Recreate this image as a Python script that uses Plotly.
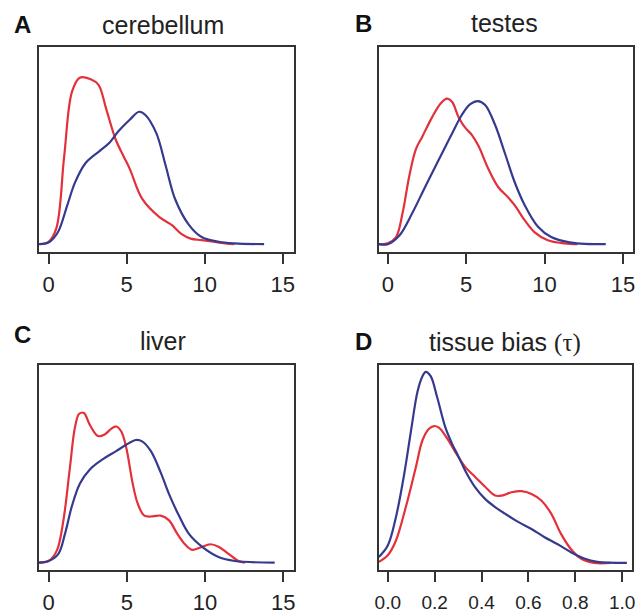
import plotly.graph_objects as go

# ---- data (estimated densities) ----
# A: cerebellum
a_red_x = [-0.6, 0.0, 0.5, 1.0, 1.5, 2.0, 2.7, 3.2, 3.7, 4.3, 4.8, 5.2, 6.0, 7.1, 7.9, 8.5, 9.1, 9.8, 10.9, 11.9]
a_red_y = [0.0, 0.003, 0.020, 0.110, 0.192, 0.210, 0.208, 0.201, 0.170, 0.132, 0.111, 0.095, 0.057, 0.034, 0.024, 0.013, 0.007, 0.005, 0.002, 0.0]
a_blue_x = [-0.6, 0.0, 0.6, 1.2, 1.7, 2.4, 3.3, 3.9, 4.5, 5.2, 5.8, 6.2, 6.9, 7.5, 8.1, 9.0, 9.8, 10.9, 11.9, 13.8]
a_blue_y = [0.0, 0.002, 0.015, 0.049, 0.078, 0.103, 0.118, 0.128, 0.143, 0.157, 0.167, 0.163, 0.140, 0.099, 0.057, 0.024, 0.009, 0.003, 0.001, 0.0]

# B: testes
b_red_x = [-0.57, 0.0, 0.53, 0.95, 1.37, 1.79, 2.2, 2.84, 3.37, 3.79, 4.1, 4.53, 4.95, 5.37, 5.79, 6.42, 7.05, 7.68, 8.1, 8.74, 9.37, 10.2, 11.26, 12.1]
b_red_y = [0.0, 0.001, 0.009, 0.040, 0.086, 0.120, 0.136, 0.161, 0.178, 0.184, 0.180, 0.160, 0.147, 0.138, 0.124, 0.095, 0.072, 0.059, 0.049, 0.030, 0.015, 0.005, 0.001, 0.0]
b_blue_x = [-0.57, 0.0, 0.74, 1.58, 2.42, 3.26, 4.1, 4.74, 5.26, 5.75, 6.21, 6.84, 7.47, 8.1, 8.74, 9.58, 10.42, 11.68, 13.9]
b_blue_y = [0.0, 0.0, 0.011, 0.040, 0.074, 0.107, 0.140, 0.164, 0.177, 0.181, 0.176, 0.151, 0.115, 0.078, 0.049, 0.022, 0.009, 0.002, 0.0]

# C: liver
c_red_x = [-0.63, 0.0, 0.53, 0.95, 1.37, 1.69, 1.96, 2.26, 2.64, 3.16, 3.59, 4.0, 4.32, 4.64, 4.96, 5.38, 5.7, 6.12, 6.65, 7.17, 7.7, 8.23, 8.76, 9.18, 9.7, 10.34, 10.86, 11.5, 12.13, 12.55]
c_red_y = [0.0, 0.002, 0.015, 0.053, 0.120, 0.170, 0.187, 0.188, 0.173, 0.159, 0.161, 0.168, 0.171, 0.165, 0.145, 0.099, 0.074, 0.059, 0.058, 0.059, 0.053, 0.036, 0.022, 0.016, 0.019, 0.023, 0.020, 0.011, 0.002, 0.0]
c_blue_x = [-0.63, 0.0, 0.63, 1.05, 1.48, 2.0, 2.64, 3.48, 4.32, 4.96, 5.59, 6.0, 6.54, 7.17, 7.7, 8.33, 8.97, 9.8, 10.86, 11.9, 14.45]
c_blue_y = [0.0, 0.002, 0.011, 0.036, 0.070, 0.099, 0.117, 0.130, 0.140, 0.148, 0.154, 0.152, 0.140, 0.113, 0.086, 0.059, 0.036, 0.020, 0.007, 0.002, 0.0]

# D: tissue bias (tau)
d_blue_x = [-0.038, 0.0, 0.035, 0.07, 0.099, 0.127, 0.148, 0.162, 0.183, 0.211, 0.246, 0.275, 0.303, 0.331, 0.373, 0.415, 0.458, 0.5, 0.556, 0.613, 0.669, 0.725, 0.78, 0.838, 0.894, 1.02]
d_blue_y = [0.11, 0.32, 0.84, 1.62, 2.41, 3.13, 3.41, 3.49, 3.41, 3.02, 2.47, 2.17, 1.93, 1.68, 1.38, 1.17, 1.02, 0.90, 0.75, 0.62, 0.47, 0.34, 0.20, 0.08, 0.02, 0.0]
d_red_x = [-0.038, 0.0, 0.035, 0.077, 0.12, 0.148, 0.176, 0.197, 0.218, 0.254, 0.289, 0.331, 0.373, 0.415, 0.458, 0.486, 0.528, 0.57, 0.613, 0.655, 0.697, 0.739, 0.78, 0.824, 0.88, 0.95]
d_red_y = [0.02, 0.14, 0.41, 1.02, 1.75, 2.24, 2.45, 2.50, 2.47, 2.27, 2.02, 1.75, 1.57, 1.39, 1.23, 1.23, 1.29, 1.31, 1.26, 1.14, 0.90, 0.53, 0.26, 0.08, 0.0, 0.0]

titles = ["cerebellum", "testes", "liver",
          "tissue bias <span style='font-family:\"Liberation Serif\", serif'>(τ)</span>"]
letters = ["A", "B", "C", "D"]
expr_ticks = [0, 5, 10, 15]
tau_ticks = [0.0, 0.2, 0.4, 0.6, 0.8, 1.0]
tau_tick_labels = ["0.0", "0.2", "0.4", "0.6", "0.8", "1.0"]

RED = "#e3303a"
BLUE = "#363a8e"
W, H = 640, 615

fig = go.Figure()
panels = [
    (a_red_x, a_red_y, a_blue_x, a_blue_y),
    (b_red_x, b_red_y, b_blue_x, b_blue_y),
    (c_red_x, c_red_y, c_blue_x, c_blue_y),
    (d_red_x, d_red_y, d_blue_x, d_blue_y),
]
for i, (rx, ry, bx, by) in enumerate(panels):
    ax = "" if i == 0 else str(i + 1)
    fig.add_trace(go.Scatter(x=rx, y=ry, mode="lines", line=dict(color=RED, width=2.2, shape="spline", smoothing=1.0),
                             xaxis="x" + ax, yaxis="y" + ax, showlegend=False))
    fig.add_trace(go.Scatter(x=bx, y=by, mode="lines", line=dict(color=BLUE, width=2.2, shape="spline", smoothing=1.0),
                             xaxis="x" + ax, yaxis="y" + ax, showlegend=False))

# box pixel positions (left, right, top, bottom)
boxes = [(35, 293, 47, 253), (379, 636, 47.5, 253), (35, 293, 367, 573), (379, 635, 366.5, 573)]
xranges = [[-0.633, 15.70], [-0.568, 15.64], [-0.633, 15.67], [-0.038, 1.042]]
yranges = [[-0.0096, 0.249], [-0.0096, 0.249], [-0.0096, 0.248], [-0.133, 3.62]]

layout = dict(width=W, height=H, margin=dict(l=0, r=0, t=0, b=0),
              plot_bgcolor="white", paper_bgcolor="white",
              font=dict(family="Liberation Sans, Arial, sans-serif", color="#222222"))
for i, (l, r, t, b) in enumerate(boxes):
    k = "" if i == 0 else str(i + 1)
    xa = dict(domain=[l / W, r / W], range=xranges[i], anchor="y" + k,
              showline=True, mirror=True, linecolor="#333333", linewidth=1.5,
              showgrid=False, zeroline=False, ticks="outside", ticklen=10, tickwidth=1.5,
              tickcolor="#333333", tickfont=dict(size=22 if i < 3 else 19, color="#222222"),
              ticklabelstandoff=2 if i < 3 else 4)
    if i < 3:
        xa.update(tickmode="array", tickvals=expr_ticks, ticktext=[str(v) for v in expr_ticks])
    else:
        xa.update(tickmode="array", tickvals=tau_ticks, ticktext=tau_tick_labels)
    ya = dict(domain=[1 - b / H, 1 - t / H], range=yranges[i], anchor="x" + k,
              showline=True, mirror=True, linecolor="#333333", linewidth=1.5,
              showgrid=False, zeroline=False, showticklabels=False, ticks="")
    layout["xaxis" + k] = xa
    layout["yaxis" + k] = ya
fig.update_layout(**layout)

title_pos = [(161, 25), (506, 23), (161, 343), (507, 344)]
letter_pos = [(19, 25), (363, 24), (19, 336), (363, 343)]
for i in range(4):
    fig.add_annotation(x=title_pos[i][0] / W, y=1 - title_pos[i][1] / H, xref="paper", yref="paper",
                       text=titles[i], showarrow=False, font=dict(size=25, color="#222222"),
                       xanchor="center", yanchor="middle")
    fig.add_annotation(x=letter_pos[i][0] / W, y=1 - letter_pos[i][1] / H, xref="paper", yref="paper",
                       text="<b>" + letters[i] + "</b>", showarrow=False, font=dict(size=24, color="#111111"),
                       xanchor="center", yanchor="middle")

fig.write_html("out.html", config={"displayModeBar": False},
               post_script="document.body.style.margin='0';document.body.style.overflow='hidden';")
